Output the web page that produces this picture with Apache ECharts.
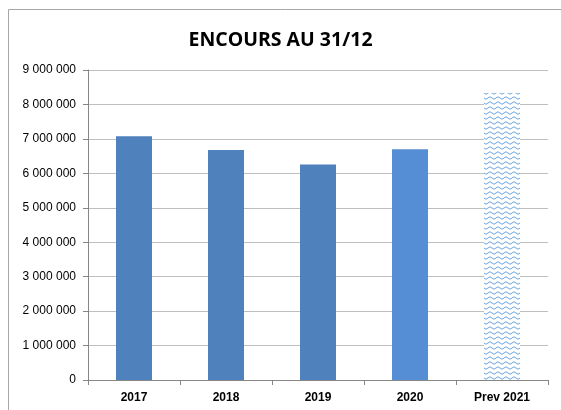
<!DOCTYPE html>
<html><head><meta charset="utf-8">
<script src="https://cdn.jsdelivr.net/npm/echarts@6/dist/echarts.min.js"></script>
<style>html,body{margin:0;padding:0;background:#fff}#c{width:561px;height:410px}</style>
</head><body><div id="c"></div>
<script>
const categories = ['2017', '2018', '2019', '2020', 'Prev 2021'];
const values = [7080000, 6680000, 6260000, 6700000, 8330000];
const titleText = 'ENCOURS AU 31/12';

function wavePattern() {
  const c = document.createElement('canvas');
  c.width = 8; c.height = 5;
  const g = c.getContext('2d');
  g.fillStyle = '#ffffff'; g.fillRect(0, 0, 8, 5);
  g.strokeStyle = '#6AA5E0'; g.lineWidth = 1;
  g.beginPath();
  g.moveTo(0, 3); g.quadraticCurveTo(2, 0.5, 4, 3); g.quadraticCurveTo(6, 5.5, 8, 3);
  g.stroke();
  return { image: c, repeat: 'repeat' };
}
const colors = ['#4F81BD', '#4F81BD', '#4F81BD', '#558ED5', wavePattern()];

const fmt = v => String(v).replace(/\B(?=(\d{3})+(?!\d))/g, ' ');

const chart = echarts.init(document.getElementById('c'), null, {renderer: 'canvas'});
chart.setOption({
  animation: false,
  title: {
    text: titleText, left: 'center', top: 25,
    textStyle: {fontFamily: 'Open Sans', fontWeight: 'bold', fontSize: 19.5, color: '#000'}
  },
  graphic: [{
    type: 'rect', shape: {x: 8.5, y: 9.5, width: 600, height: 500},
    style: {fill: 'none', stroke: '#A6A6A6', lineWidth: 1}, silent: true
  }],
  grid: {left: 88, right: 13, top: 70, bottom: 30},
  xAxis: {
    type: 'category', data: categories,
    axisLine: {lineStyle: {color: '#868686'}},
    axisTick: {show: true, length: 5, lineStyle: {color: '#868686'}},
    axisLabel: {fontFamily: 'Liberation Sans', fontWeight: 'bold', fontSize: 12, color: '#000', margin: 12}
  },
  yAxis: {
    type: 'value', min: 0, max: 9000000, interval: 1000000,
    axisLine: {show: true, lineStyle: {color: '#868686'}},
    axisTick: {show: true, inside: false, length: 5, lineStyle: {color: '#868686'}},
    splitLine: {lineStyle: {color: '#BFBFBF'}},
    axisLabel: {formatter: fmt, fontFamily: 'Liberation Sans', fontSize: 12, color: '#000', margin: 12}
  },
  series: [{
    type: 'bar', barWidth: 36,
    data: values.map((v, i) => ({value: v, itemStyle: {color: colors[i]}}))
  }]
});
</script></body></html>
